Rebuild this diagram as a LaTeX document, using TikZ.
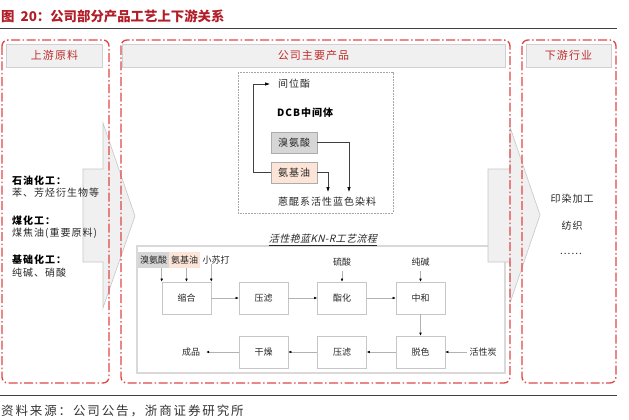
\documentclass[tikz,border=0pt]{standalone}
\usepackage{fontspec}
\setmainfont{Noto Sans CJK SC}
\newfontfamily\spcjk[LetterSpace=10]{Noto Sans CJK SC}
\newfontfamily\srccjk[LetterSpace=15]{Noto Sans CJK SC}
\newfontfamily\slcjk[FakeSlant=0.25,LetterSpace=4]{Noto Sans CJK SC}
\usetikzlibrary{arrows.meta}
\definecolor{dred}{RGB}{178,30,40}
\definecolor{bred}{RGB}{222,70,70}
\definecolor{hred}{RGB}{192,45,45}
\definecolor{hfill}{RGB}{240,240,240}
\definecolor{hline}{RGB}{208,208,208}
\definecolor{txt}{RGB}{40,40,40}
\definecolor{orfill}{RGB}{252,228,214}
\definecolor{grfill}{RGB}{214,214,214}
\tikzset{
  outerbox/.style={draw=bred, line width=1.3pt, rounded corners=6pt,
    dash pattern=on 9pt off 2.5pt on 1.5pt off 2.5pt},
  header/.style={draw=hline, fill=hfill, line width=0.8pt, inner sep=0pt,
    text=hred, font=\spcjk\fontsize{11}{13}\selectfont, minimum height=23pt},
  bigarrow/.style={draw=gray!45, fill=hfill, line width=0.6pt},
  txtl/.style={anchor=west, inner sep=0pt, text=txt, font=\spcjk\fontsize{10}{12}\selectfont},
  txtb/.style={anchor=west, inner sep=0pt, text=black, font=\spcjk\bfseries\fontsize{10}{12}\selectfont},
  txtc/.style={inner sep=0pt, text=txt, font=\spcjk\fontsize{10}{12}\selectfont},
  ptbox/.style={draw=gray!45, line width=0.6pt, minimum width=49pt, minimum height=32pt,
    inner sep=0pt, font=\fontsize{9}{11}\selectfont, text=txt},
  plab/.style={inner sep=0pt, font=\fontsize{9}{11}\selectfont, text=txt},
  parr/.style={draw=gray!60, line width=0.5pt, -{Latex[length=3pt,width=2.6pt,black]}},
  darr/.style={draw=black!75, line width=0.6pt, -{Latex[length=5pt,width=3.5pt,black]}},
  dcbbox/.style={draw=gray!65, line width=0.6pt, minimum width=46pt, minimum height=21pt,
    inner sep=0pt, text=txt, font=\spcjk\fontsize{10}{12}\selectfont}
}
\begin{document}
\begin{tikzpicture}[x=1pt,y=-1pt]
\useasboundingbox (0,0) rectangle (629,420);
% title
\node[anchor=west, inner sep=0pt, text=dred, font=\bfseries\fontsize{13.4}{15}\selectfont] (title) at (1,16) {图\hspace{6pt}20：公司部分产品工艺上下游关系};
\coordinate (tl1) at (0,29); \coordinate (tl2) at (617,29);
\draw[black!75, line width=1pt] (tl1) -- (tl2);
\coordinate (bl1) at (0,395); \coordinate (bl2) at (617,395);
\draw[black!75, line width=1pt] (bl1) -- (bl2);
\node[anchor=west, inner sep=0pt, text=black!80, font=\srccjk\fontsize{12.5}{14}\selectfont] (src) at (1,411) {资料来源：公司公告，浙商证券研究所};

% process box
\draw[draw=gray!30, line width=1.6pt] (137,246) rectangle (505,373);
\node[inner sep=0pt, text=txt, font=\slcjk\fontsize{10}{12}\selectfont, anchor=east] (ptitle) at (377,239) {活性艳蓝KN-R工艺流程};
\draw[txt, line width=0.5pt] ([yshift=-1.5pt]ptitle.south west) -- ([yshift=-1.5pt]ptitle.south east);

% big arrows
\draw[bigarrow] (83,169) -- (103,169) -- (103,123) -- (135,216) -- (103,308) -- (103,262) -- (83,262) -- cycle;
\draw[bigarrow] (488,169) -- (510,169) -- (510,127) -- (540,215) -- (510,303) -- (510,262) -- (488,262) -- cycle;

% outer dashed boxes
\draw[outerbox] (2,40) rectangle (109,383);
\draw[outerbox] (121,40) rectangle (510,383);
\draw[outerbox] (522,40) rectangle (616,383);

% headers
\node[header, minimum width=96pt] (hl) at (54.5,55.5) {上游原料};
\node[header, minimum width=383pt] (hm) at (313.5,55.5) {公司主要产品};
\node[header, minimum width=85pt] (hr) at (568.5,55.5) {下游行业};

% left texts
\node[txtb] (l1) at (12,181) {石油化工：};
\node[txtl] (l2) at (12,193) {苯、芳烃衍生物等};
\node[txtb] (l3) at (12,221) {煤化工：};
\node[txtl] (l4) at (12,233) {煤焦油(重要原料)};
\node[txtb] (l5) at (12,260) {基础化工：};
\node[txtl] (l6) at (12,273) {纯碱、硝酸};

% right texts
\node[txtc] (r1) at (572,199) {印染加工};
\node[txtc] (r2) at (572,226) {纺织};
\node[txtc] (r3) at (571,254) {......};

% DCB group
\draw[gray!70, line width=0.7pt, dash pattern=on 1.8pt off 1pt] (238,72) rectangle (393,213);
\node[txtc, anchor=west] (jw) at (278,84) {间位酯};
\node[inner sep=0pt, text=black, font=\spcjk\bfseries\fontsize{10}{12}\selectfont, anchor=west] (dcb) at (277,113) {DCB中间体};
\node[dcbbox, fill=grfill] (bx) at (294,142.5) {溴氨酸};
\node[dcbbox, fill=orfill] (ax) at (294,172.5) {氨基油};
\node[txtc] (dye) at (327,202) {蒽醌系活性蓝色染料};
\coordinate (jwin) at (270,84);
\coordinate (d1) at (349,192);
\coordinate (d2) at (328,192);
\draw[darr] (bx.east) -| (d1);
\draw[darr] (ax.east) -| (d2);
\draw[darr] (ax.west) -- ++(-17,0) |- (jwin);

% process inputs
\node[plab, fill=grfill, minimum width=31pt, minimum height=16pt] (i1) at (153.5,260) {溴氨酸};
\node[plab, fill=orfill, minimum width=31pt, minimum height=16pt] (i2) at (184.5,260) {氨基油};
\node[plab] (i3) at (216,260) {小苏打};
\node[plab] (i4) at (342,262) {硫酸};
\node[plab] (i5) at (420.5,262) {纯碱};

% process boxes
\node[ptbox] (b1) at (186.5,298) {缩合};
\node[ptbox] (b2) at (263.5,298) {压滤};
\node[ptbox] (b3) at (342,298) {酯化};
\node[ptbox] (b4) at (420.5,298) {中和};
\node[ptbox] (b5) at (420.5,352) {脱色};
\node[ptbox] (b6) at (342,352) {压滤};
\node[ptbox] (b7) at (263.5,352) {干燥};
\node[plab] (out) at (191,352) {成品};
\node[plab] (ac) at (483,352) {活性炭};

% process arrows
\draw[parr] (b1.north west |- i1.south) -- (b1.north west);
\draw[parr] (b1.north |- i2.south) -- (b1.north);
\draw[parr] (b1.north east |- i3.south) -- (b1.north east);
\draw[parr] ([yshift=-5pt]i4.south) -- (b3.north);
\draw[parr] ([yshift=-5pt]i5.south) -- (b4.north);
\draw[parr] (b1) -- (b2);
\draw[parr] (b2) -- (b3);
\draw[parr] (b3) -- (b4);
\draw[parr] (b4) -- (b5);
\draw[parr] ([xshift=-2pt]ac.west) -- (b5.east);
\draw[parr] (b5) -- (b6);
\draw[parr] (b6) -- (b7);
\draw[parr] (b7) -- ([xshift=6pt]out.east);
\end{tikzpicture}
\end{document}
